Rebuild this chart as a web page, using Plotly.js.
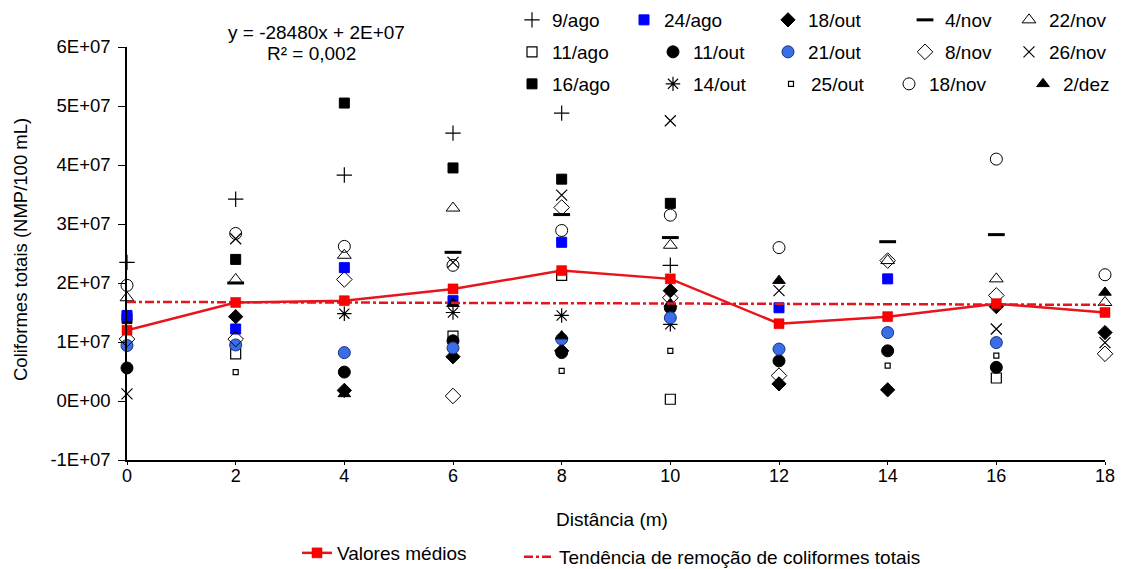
<!DOCTYPE html>
<html>
<head>
<meta charset="utf-8">
<script src="https://cdn.plot.ly/plotly-3.0.1.min.js"></script>
<style>body{margin:0;padding:0;background:#fff}#chart{width:1121px;height:569px}</style>
</head>
<body>
<div id="chart"></div>
<script>
// Distances (m)
const distancia = [0, 2, 4, 6, 8, 10, 12, 14, 16, 18];

// Series (NMP/100 mL); null = not visible
const s_9ago  = [2.35e7, 3.42e7, 3.83e7, 4.54e7, 4.88e7, 2.30e7, null, null, null, null];
const s_11ago = [null, 8.0e6, null, 1.10e7, 2.13e7, 3.0e5, null, null, 3.9e6, null];
const s_16ago = [1.40e7, 2.40e7, 5.05e7, 3.95e7, 3.76e7, 3.35e7, null, null, null, null];
const s_24ago = [1.45e7, 1.22e7, 2.26e7, 1.70e7, 2.69e7, null, 1.58e7, 2.07e7, null, null];
const s_11out = [5.6e6, null, 4.9e6, 1.02e7, 8.2e6, 1.58e7, 6.8e6, 8.5e6, 5.7e6, null];
const s_14out = [null, null, 1.48e7, 1.50e7, 1.45e7, 1.30e7, null, null, null, null];
const s_18out = [null, 1.43e7, 1.8e6, 7.5e6, 8.5e6, 1.87e7, 2.9e6, 1.9e6, 1.60e7, 1.16e7];
const s_21out = [9.4e6, 9.5e6, 8.2e6, 9.0e6, 1.05e7, 1.41e7, 8.8e6, 1.16e7, 9.9e6, null];
const s_25out = [null, 4.9e6, null, null, 5.1e6, 8.5e6, null, 6.0e6, 7.7e6, null];
const s_4nov  = [null, 2.00e7, null, 2.52e7, 3.16e7, 2.77e7, null, 2.70e7, 2.82e7, null];
const s_8nov  = [1.05e7, 1.05e7, 2.06e7, 8.5e5, 3.28e7, 1.75e7, 4.3e6, 2.38e7, 1.79e7, 8.0e6];
const s_18nov = [1.96e7, 2.84e7, 2.62e7, 2.30e7, 2.89e7, 3.15e7, 2.60e7, null, 4.10e7, 2.14e7];
const s_22nov = [1.75e7, 2.06e7, 2.47e7, 3.27e7, null, 2.64e7, null, 2.38e7, 2.07e7, 1.67e7];
const s_26nov = [1.2e6, 2.75e7, null, 2.35e7, 3.49e7, 4.75e7, 1.87e7, null, 1.22e7, 9.9e6];
const s_2dez  = [null, null, 1.2e6, 1.65e7, 1.10e7, 1.65e7, 2.04e7, null, null, 1.84e7];

// Mean values and trend line
const medias = [1.20e7, 1.67e7, 1.70e7, 1.90e7, 2.21e7, 2.07e7, 1.31e7, 1.43e7, 1.65e7, 1.50e7];
const tendenciaX = [0, 18];
const tendenciaY = [1.68e7, 1.63e7];

// Y tick labels
const yTickVals = [-1e7, 0, 1e7, 2e7, 3e7, 4e7, 5e7, 6e7];
const yTickText = ["-1E+07", "0E+00", "1E+07", "2E+07", "3E+07", "4E+07", "5E+07", "6E+07"];

const FONT = "Liberation Sans, Arial, sans-serif";
const W = 1121, H = 569;
const PL = 127, PR = 1105, PT = 47, PB = 460;

function pt(name, y, symbol, opts, legend) {
  const o = opts || {};
  return {
    type: 'scatter', mode: 'markers', name: name, x: distancia, y: y,
    legend: legend, cliponaxis: false,
    marker: {
      symbol: symbol, size: o.size || 10,
      color: o.color || '#000',
      line: {color: o.lc || '#000', width: o.lw !== undefined ? o.lw : 1}
    }
  };
}

const traces = [
  pt('9/ago',  s_9ago,  'cross-thin-open', {size: 11, lw: 1.2}, 'legend'),
  pt('11/ago', s_11ago, 'square-open', {size: 10, lw: 1.2}, 'legend2'),
  pt('16/ago', s_16ago, 'square', {size: 10}, 'legend3'),
  pt('24/ago', s_24ago, 'square', {size: 10, color: '#0000ff', lc: '#0000ff'}, 'legend4'),
  pt('11/out', s_11out, 'circle', {size: 12}, 'legend5'),
  pt('14/out', s_14out, 'asterisk-open', {size: 12, lw: 1.2}, 'legend6'),
  pt('18/out', s_18out, 'diamond', {size: 11}, 'legend7'),
  pt('21/out', s_21out, 'circle', {size: 12, color: '#3a6ee8', lc: '#1a2f80', lw: 1}, 'legend8'),
  pt('25/out', s_25out, 'square-open', {size: 5, lw: 1.2, lc: '#333'}, 'legend9'),
  pt('4/nov',  s_4nov,  'line-ew-open', {size: 12, lw: 3}, 'legend10'),
  pt('8/nov',  s_8nov,  'diamond-open', {size: 12, lw: 1, lc: '#444'}, 'legend11'),
  pt('18/nov', s_18nov, 'circle-open', {size: 12, lw: 1, lc: '#444'}, 'legend12'),
  pt('22/nov', s_22nov, 'triangle-up-open', {size: 12, lw: 1}, 'legend13'),
  pt('26/nov', s_26nov, 'x-thin-open', {size: 11, lw: 1.2, lc: '#444'}, 'legend14'),
  pt('2/dez',  s_2dez,  'triangle-up', {size: 11}, 'legend15'),
  {
    type: 'scatter', mode: 'lines', name: 'Tendência de remoção de coliformes totais',
    x: tendenciaX, y: tendenciaY, legend: 'legend17', cliponaxis: false,
    line: {color: '#e8141c', width: 2.5, dash: 'dashdot'}
  },
  {
    type: 'scatter', mode: 'lines+markers', name: 'Valores médios',
    x: distancia, y: medias, legend: 'legend16', cliponaxis: false,
    line: {color: '#e8141c', width: 2.5},
    marker: {symbol: 'square', size: 10, color: '#ff0000', line: {color: '#c00', width: 0.5}}
  }
];

// legend placed so that its text starts at px and is vertically centred on py
function leg(px, py, size) {
  return {
    xref: 'container', yref: 'container',
    x: (px - 41) / W, y: 1 - py / H, xanchor: 'left', yanchor: 'middle',
    bgcolor: 'rgba(0,0,0,0)', borderwidth: 0,
    font: {family: FONT, size: size || 19, color: '#000'},
    itemwidth: 30, orientation: 'h'
  };
}

const layout = {
  width: W, height: H,
  margin: {l: PL, r: W - PR, t: PT, b: H - PB, autoexpand: false},
  paper_bgcolor: '#fff', plot_bgcolor: '#fff',
  font: {family: FONT, size: 18, color: '#000'},
  showlegend: true,
  legend:   leg(553, 20),
  legend2:  leg(553, 52),
  legend3:  leg(553, 84),
  legend4:  leg(665, 20),
  legend5:  leg(694, 52),
  legend6:  leg(694, 84),
  legend7:  leg(809, 20),
  legend8:  leg(809, 52),
  legend9:  leg(812, 84),
  legend10: leg(946, 20),
  legend11: leg(946, 52),
  legend12: leg(930, 84),
  legend13: leg(1050, 20),
  legend14: leg(1050, 52),
  legend15: leg(1064, 84),
  legend16: leg(338, 553, 19),
  legend17: leg(560, 557, 19),
  xaxis: {
    range: [0, 18], tickmode: 'array', tickvals: distancia,
    showgrid: false, zeroline: false, showline: true, linecolor: '#000', linewidth: 1.5,
    ticks: 'outside', ticklen: 3, tickcolor: '#000', ticklabelstandoff: -4,
    tickfont: {family: FONT, size: 18, color: '#000'}
  },
  yaxis: {
    range: [-1e7, 6e7], tickmode: 'array', tickvals: yTickVals, ticktext: yTickText,
    showgrid: false, zeroline: false, showline: true, linecolor: '#000', linewidth: 1.5,
    ticks: 'outside', ticklen: 7, tickcolor: '#000', ticklabelstandoff: 4,
    tickfont: {family: FONT, size: 18.5, color: '#000'}
  },
  annotations: [
    {xref: 'paper', yref: 'paper', x: (316 - PL) / (PR - PL), y: (PB - 32) / (PB - PT),
     xanchor: 'center', yanchor: 'middle',
     text: 'y = -28480x + 2E+07', showarrow: false, font: {family: FONT, size: 19, color: '#000'}},
    {xref: 'paper', yref: 'paper', x: (311 - PL) / (PR - PL), y: (PB - 54) / (PB - PT),
     xanchor: 'center', yanchor: 'middle',
     text: 'R² = 0,002', showarrow: false, font: {family: FONT, size: 19, color: '#000'}},
    {xref: 'paper', yref: 'paper', x: (612 - PL) / (PR - PL), y: (PB - 519) / (PB - PT),
     xanchor: 'center', yanchor: 'middle',
     text: 'Distância (m)', showarrow: false, font: {family: FONT, size: 19, color: '#000'}},
    {xref: 'paper', yref: 'paper', x: (20 - PL) / (PR - PL), y: (PB - 250) / (PB - PT),
     xanchor: 'center', yanchor: 'middle',
     text: 'Coliformes totais (NMP/100 mL)', textangle: -90, showarrow: false,
     font: {family: FONT, size: 18.5, color: '#000'}}
  ]
};

Plotly.newPlot('chart', traces, layout, {displayModeBar: false, responsive: false});
</script>
</body>
</html>
